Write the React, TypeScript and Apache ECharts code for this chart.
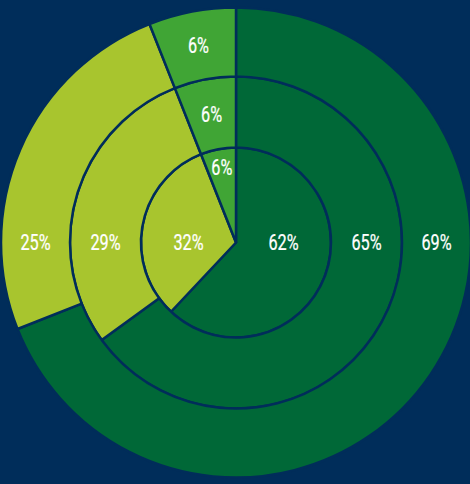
import React, { useEffect, useRef } from "react";
import * as echarts from "echarts";

const categories = ["Group A", "Group B", "Group C"];
const innerValues = [62, 32, 6];
const middleValues = [65, 29, 6];
const outerValues = [69, 25, 6];
const ringValues = [innerValues, middleValues, outerValues];

const COLORS = ["#006837", "#a8c52e", "#40a535"];
const BG = "#002d5a";
const CENTER: [number, number] = [236, 242.5];
const RINGS: [number, number][] = [
  [0, 95],
  [95, 166],
  [166, 235],
];
const FONT = "Roboto, 'DejaVu Sans', sans-serif";

function makeSeries(values: number[], ring: number) {
  const [r0, r1] = RINGS[ring];
  return {
    type: "pie",
    silent: true,
    startAngle: 90,
    clockwise: true,
    center: CENTER,
    radius: [r0, r1],
    avoidLabelOverlap: false,
    emphasis: { disabled: true },
    itemStyle: { borderColor: BG, borderWidth: 2.5 },
    labelLine: { show: false },
    label: { show: false },
    data: values.map((v, k) => ({
      name: categories[k],
      value: v,
      itemStyle: { color: COLORS[k] },
    })),
  };
}

function makeLabels() {
  const out: any[] = [];
  ringValues.forEach((values, ring) => {
    const [r0, r1] = RINGS[ring];
    const total = values.reduce((a, b) => a + b, 0);
    values.forEach((v, i) => {
      let angleDeg: number;
      let r = (r0 + r1) / 2;
      if (i === 0) angleDeg = 90;
      else if (i === 1) angleDeg = 270;
      else {
        const before = values.slice(0, i).reduce((a, b) => a + b, 0);
        angleDeg = ((before + v / 2) / total) * 360;
        if (r0 === 0) r = r1 * 0.8;
      }
      const a = (angleDeg * Math.PI) / 180;
      out.push({
        type: "text",
        silent: true,
        x: CENTER[0] + r * Math.sin(a),
        y: CENTER[1] - r * Math.cos(a),
        scaleX: 0.74,
        z: 100,
        style: {
          text: v + "%",
          fill: "#ffffff",
          stroke: "#ffffff",
          lineWidth: 0.25,
          fontFamily: FONT,
          fontSize: 22,
          fontWeight: "normal",
          textAlign: "center",
          align: "center",
          textVerticalAlign: "middle",
          verticalAlign: "middle",
        },
      });
    });
  });
  return out;
}

export default function App() {
  const ref = useRef<HTMLDivElement>(null);
  useEffect(() => {
    if (!ref.current) return;
    const chart = echarts.init(ref.current, undefined, { renderer: "svg" });
    chart.setOption({
      animation: false,
      backgroundColor: BG,
      series: [
        makeSeries(innerValues, 0),
        makeSeries(middleValues, 1),
        makeSeries(outerValues, 2),
      ],
      graphic: makeLabels(),
    } as any);
    return () => chart.dispose();
  }, []);
  return (
    <div
      ref={ref}
      style={{ position: "fixed", left: 0, top: 0, width: 470, height: 484 }}
    />
  );
}
